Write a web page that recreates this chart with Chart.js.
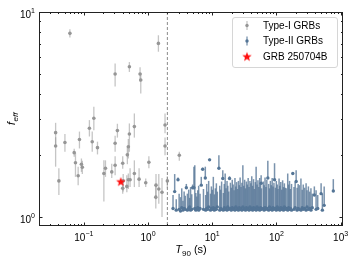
<!DOCTYPE html>
<html>
<head>
<meta charset="utf-8">
<script src="https://cdn.jsdelivr.net/npm/chart.js@4"></script>
<style>
  html, body { margin: 0; padding: 0; background: #fff; }
  canvas { display: block; }
</style>
</head>
<body>
<canvas id="c" width="356" height="263"></canvas>
<script>
// --------------------------
// data
// --------------------------
// Type-I GRBs : T90 (s), f_eff, lower / upper end of error bar
const t1T  = [0.0606, 0.143, 0.307, 0.512, 0.751, 0.77, 1.45, 0.0363, 0.0363, 0.0408,
              0.0507, 0.0707, 0.074, 0.0815, 0.0854, 0.0916, 0.0946, 0.122, 0.135, 0.163,
              0.205, 0.217, 0.272, 0.307, 0.307, 0.333, 0.403, 0.41, 0.403, 0.467,
              0.476, 0.493, 0.493, 0.512, 0.525, 0.612, 0.612, 0.725, 0.92, 1.03,
              1.33, 1.32, 1.47, 1.65, 1.84, 1.84, 2.0, 3.07];
const t1F  = [7.87, 3.03, 4.98, 5.41, 4.98, 4.66, 7.03, 2.58, 2.22, 1.50,
              2.31, 2.06, 1.84, 1.59, 2.39, 1.81, 1.75, 2.71, 2.33, 2.18,
              1.63, 1.73, 1.66, 2.29, 1.79, 2.64, 1.83, 1.50, 1.38, 1.41,
              2.01, 1.52, 2.20, 2.54, 1.52, 2.76, 1.63, 1.53, 1.47, 1.85,
              1.43, 1.25, 1.37, 1.32, 2.81, 2.22, 1.50, 2.00];
const t1Lo = [7.50, 2.65, 4.33, 5.10, 4.57, 4.00, 6.40, 2.20, 1.76, 1.28,
              2.08, 1.97, 1.57, 1.43, 2.16, 1.66, 1.62, 2.47, 2.08, 2.02,
              1.19, 1.57, 1.55, 2.08, 1.60, 2.44, 1.72, 1.33, 1.30, 1.32,
              1.81, 1.37, 1.93, 2.08, 1.40, 2.44, 1.40, 1.40, 1.40, 1.73,
              1.22, 1.10, 1.16, 1.00, 2.56, 2.00, 1.38, 1.88];
const t1Hi = [8.25, 3.45, 5.60, 5.70, 5.38, 5.04, 7.70, 2.88, 2.45, 1.73,
              2.54, 2.15, 2.06, 1.76, 2.61, 1.93, 1.88, 2.97, 2.61, 2.33,
              1.89, 1.89, 1.82, 2.49, 1.98, 2.85, 1.98, 1.62, 1.45, 1.60,
              2.18, 1.63, 2.40, 2.86, 1.73, 3.20, 1.89, 1.73, 1.54, 1.98,
              1.62, 1.43, 1.62, 1.55, 3.20, 2.44, 1.58, 2.08];

// Type-II GRBs : T90 (s), f_eff, upper end of error bar
const t2T = [2.45, 2.60, 2.75, 2.93, 3.05, 3.20, 3.35, 3.50, 3.65, 3.80,
             3.95, 4.10, 4.30, 4.45, 4.60, 4.80, 4.95, 5.19, 5.35, 5.55,
             5.75, 5.95, 6.15, 6.45, 6.75, 7.10, 7.30, 7.80, 7.90, 8.20,
             8.50, 8.80, 9.10, 9.40, 9.70, 10.0, 10.4, 10.8, 11.2, 11.6,
             12.0, 12.7, 13.1, 13.5, 14.0, 14.6, 14.9, 15.4, 15.9, 16.4,
             17.0, 17.5, 18.1, 18.6, 19.2, 19.8, 20.5, 21.2, 21.9, 22.6,
             23.3, 24.0, 24.8, 25.6, 26.4, 27.2, 28.1, 29.0, 30.0, 31.0,
             32.0, 33.0, 34.1, 35.2, 36.3, 37.5, 38.7, 40.0, 41.3, 42.6,
             44.0, 45.4, 46.9, 48.3, 49.9, 51.5, 53.2, 54.9, 56.7, 57.8,
             58.5, 62.4, 64.4, 66.5, 68.7, 70.9, 73.5, 75.6, 78.0, 80.6,
             83.2, 85.9, 88.7, 91.5, 93.5, 96.5, 99.6, 103, 106, 110,
             113, 117, 121, 125, 129, 133, 137, 142, 150, 155,
             160, 165, 172, 180, 188, 196, 203, 210, 218, 228,
             241, 252, 262, 275, 290, 300, 315, 330, 345, 362,
             390, 415, 440, 497, 520, 555, 770];
const t2F = [1.10, 1.33, 1.08, 1.52, 1.09, 1.07, 1.11, 1.08, 1.10, 1.09,
             1.39, 1.08, 1.10, 1.12, 1.08, 1.09, 1.39, 1.39, 1.10, 1.08,
             1.09, 1.11, 1.08, 1.10, 1.43, 1.71, 1.09, 1.55, 1.08, 1.10,
             1.09, 1.12, 1.90, 1.08, 1.10, 1.09, 1.11, 1.08, 1.10, 1.09,
             1.12, 1.73, 1.08, 1.10, 1.09, 1.54, 1.08, 1.11, 1.09, 1.10,
             1.08, 1.12, 1.09, 1.54, 1.10, 1.08, 1.11, 1.09, 1.10, 1.08,
             1.12, 1.09, 1.10, 1.08, 1.11, 1.09, 1.10, 1.08, 1.12, 1.09,
             1.10, 1.08, 1.11, 1.09, 1.10, 1.08, 1.12, 1.09, 1.10, 1.08,
             1.11, 1.09, 1.10, 1.08, 1.12, 1.09, 1.10, 1.08, 1.11, 1.46,
             1.09, 1.10, 1.08, 1.11, 1.09, 1.10, 1.55, 1.08, 1.12, 1.09,
             1.10, 1.08, 1.11, 1.09, 1.52, 1.10, 1.08, 1.12, 1.09, 1.10,
             1.08, 1.11, 1.09, 1.10, 1.08, 1.12, 1.09, 1.10, 1.08, 1.11,
             1.09, 1.10, 1.08, 1.63, 1.09, 1.11, 1.49, 1.08, 1.10, 1.09,
             1.08, 1.11, 1.09, 1.10, 1.08, 1.12, 1.09, 1.10, 1.08, 1.11,
             1.28, 1.09, 1.10, 1.30, 1.08, 1.14, 1.34];
const t2Hi = [1.28, 1.62, 1.22, 1.56, 1.30, 1.25, 1.38, 1.20, 1.33, 1.27,
              1.45, 1.30, 1.36, 1.24, 1.40, 1.29, 1.44, 1.76, 1.79, 1.31,
              1.26, 1.35, 1.42, 1.30, 1.57, 1.74, 1.37, 1.76, 1.28, 1.45,
              1.33, 1.50, 1.93, 1.30, 1.41, 1.36, 1.57, 1.29, 1.38, 1.46,
              1.33, 2.00, 1.42, 1.36, 1.49, 1.69, 1.31, 1.45, 1.63, 1.38,
              1.50, 1.42, 1.33, 1.58, 1.47, 1.39, 1.52, 1.44, 1.35, 1.55,
              1.41, 1.48, 1.37, 1.50, 1.43, 1.56, 1.40, 1.47, 1.79, 1.42,
              1.52, 1.38, 1.49, 1.44, 1.55, 1.40, 1.50, 1.46, 1.58, 1.42,
              1.53, 1.37, 1.48, 1.76, 1.44, 1.51, 1.40, 1.55, 1.46, 1.60,
              1.38, 1.49, 1.43, 1.56, 1.40, 1.52, 1.88, 1.45, 1.38, 1.50,
              1.43, 1.55, 1.41, 1.47, 1.83, 1.39, 1.50, 1.44, 1.37, 1.54,
              1.42, 1.48, 1.36, 1.51, 1.40, 1.46, 1.39, 1.38, 1.63, 1.44,
              1.50, 1.37, 1.45, 1.66, 1.40, 1.48, 1.69, 1.39, 1.45, 1.43,
              1.54, 1.36, 1.44, 1.39, 1.46, 1.35, 1.41, 1.33, 1.38, 1.30,
              1.41, 1.35, 1.28, 1.46, 1.30, 1.41, 1.53];

// GRB 250704B
const starT = [0.376];
const starF = [1.49];

// tick labels
const xTickVals = [0.1, 1, 10, 100, 1000];
const xTickExp  = ['\u22121', '0', '1', '2', '3'];
const yTickVals = [1, 10];
const yTickExp  = ['0', '1'];
const dividerT  = 2;

// --------------------------
// styles
// --------------------------
const FONT = '"Liberation Sans", Arial, sans-serif';
const t1Color = 'rgb(150,150,150)';
const t1Bar   = 'rgba(150,150,150,0.55)';
const t2Color = 'rgb(84,117,150)';
const t2Bar   = 'rgba(84,117,150,0.78)';
const starColor = '#ff1010';

function makeStar(r, color){
  const c = document.createElement('canvas');
  const s = Math.ceil(r * 2 + 2);
  c.width = s; c.height = s;
  const g = c.getContext('2d');
  g.fillStyle = color;
  g.beginPath();
  for(let i = 0; i < 10; i++){
    const a = -Math.PI / 2 + i * Math.PI / 5;
    const rr = i % 2 ? r * 0.42 : r;
    g.lineTo(s / 2 + rr * Math.cos(a), s / 2 + rr * Math.sin(a) + 0.4);
  }
  g.closePath();
  g.fill();
  return c;
}
const starImg = makeStar(5, starColor);

function drawPow(ctx, exp, x, yBase, align){
  ctx.font = '10px ' + FONT;
  const w1 = ctx.measureText('10').width;
  ctx.font = '7px ' + FONT;
  const w2 = ctx.measureText(exp).width;
  const left = align === 'center' ? x - (w1 + w2) / 2 : x - w1 - w2;
  ctx.textAlign = 'left';
  ctx.textBaseline = 'alphabetic';
  ctx.font = '10px ' + FONT;
  ctx.fillText('10', left, yBase);
  ctx.font = '7px ' + FONT;
  ctx.fillText(exp, left + w1, yBase - 5);
}

// error bars under the markers
const errorBars = {
  id: 'errorBars',
  beforeDatasetsDraw(chart){
    const {ctx, chartArea: a, scales: {x, y}} = chart;
    ctx.save();
    ctx.beginPath();
    ctx.rect(a.left, a.top, a.right - a.left, a.bottom - a.top);
    ctx.clip();
    ctx.lineWidth = 1.5;
    ctx.strokeStyle = t2Bar;
    t2T.forEach((t, i) => {
      const px = x.getPixelForValue(t);
      ctx.beginPath();
      ctx.moveTo(px, y.getPixelForValue(t2F[i]));
      ctx.lineTo(px, y.getPixelForValue(t2Hi[i]));
      ctx.stroke();
    });
    ctx.lineWidth = 1.3;
    ctx.strokeStyle = t1Bar;
    t1T.forEach((t, i) => {
      const px = x.getPixelForValue(t);
      ctx.beginPath();
      ctx.moveTo(px, y.getPixelForValue(t1Lo[i]));
      ctx.lineTo(px, y.getPixelForValue(t1Hi[i]));
      ctx.stroke();
    });
    // T90 = 2 s divider
    const dx = x.getPixelForValue(dividerT);
    ctx.setLineDash([3, 2]);
    ctx.strokeStyle = '#8a8a8a';
    ctx.lineWidth = 1;
    ctx.beginPath();
    ctx.moveTo(dx, a.top);
    ctx.lineTo(dx, a.bottom);
    ctx.stroke();
    ctx.restore();
  }
};

// frame, inward ticks, tick labels, axis titles, legend
const frame = {
  id: 'frame',
  afterDraw(chart){
    const {ctx, chartArea: a, scales: {x, y}} = chart;
    ctx.save();
    ctx.strokeStyle = '#222';
    ctx.lineWidth = 1;
    ctx.strokeRect(a.left + 0.5, a.top + 0.5, a.right - a.left - 1, a.bottom - a.top - 1);

    ctx.beginPath();
    for(let e = -2; e <= 3; e++){
      for(let k = 1; k <= 9; k++){
        const v = k * Math.pow(10, e);
        if(v < x.min || v > x.max) continue;
        const px = Math.round(x.getPixelForValue(v)) + 0.5;
        const len = k === 1 ? 3.5 : 2;
        ctx.moveTo(px, a.bottom); ctx.lineTo(px, a.bottom - len);
        ctx.moveTo(px, a.top); ctx.lineTo(px, a.top + len);
      }
    }
    for(let e = -1; e <= 1; e++){
      for(let k = 1; k <= 9; k++){
        const v = k * Math.pow(10, e);
        if(v < y.min || v > y.max) continue;
        const py = Math.round(y.getPixelForValue(v)) + 0.5;
        const len = k === 1 ? 3.5 : 2;
        ctx.moveTo(a.left, py); ctx.lineTo(a.left + len, py);
        ctx.moveTo(a.right, py); ctx.lineTo(a.right - len, py);
      }
    }
    ctx.stroke();

    ctx.fillStyle = '#000';
    xTickVals.forEach((v, i) => drawPow(ctx, xTickExp[i], x.getPixelForValue(v), a.bottom + 15, 'center'));
    yTickVals.forEach((v, i) => drawPow(ctx, yTickExp[i], a.left - 4, y.getPixelForValue(v) + 6, 'right'));

    // x title: T_90 (s)
    ctx.textBaseline = 'alphabetic';
    ctx.textAlign = 'left';
    ctx.font = 'italic 11px ' + FONT;
    const wT = ctx.measureText('T').width;
    ctx.font = '8px ' + FONT;
    const wSub = ctx.measureText('90').width;
    ctx.font = '11px ' + FONT;
    const wRest = ctx.measureText(' (s)').width;
    let lx = (a.left + a.right) / 2 - (wT + wSub + wRest) / 2;
    const by = 253;
    ctx.font = 'italic 11px ' + FONT; ctx.fillText('T', lx, by);
    ctx.font = '8px ' + FONT; ctx.fillText('90', lx + wT, by + 2.5);
    ctx.font = '11px ' + FONT; ctx.fillText(' (s)', lx + wT + wSub, by);

    // y title: f_eff
    ctx.save();
    ctx.translate(15, (a.top + a.bottom) / 2);
    ctx.rotate(-Math.PI / 2);
    ctx.font = 'italic 11px ' + FONT;
    const wf = ctx.measureText('f').width;
    ctx.font = 'italic 8px ' + FONT;
    const we = ctx.measureText('eff').width;
    const fx = -(wf + we) / 2;
    ctx.font = 'italic 11px ' + FONT; ctx.fillText('f', fx, 0);
    ctx.font = 'italic 8px ' + FONT; ctx.fillText('eff', fx + wf + 0.5, 2.5);
    ctx.restore();

    // legend
    const lw = 105, lh = 50;
    const lx0 = a.right - 6 - lw, ly0 = a.top + 5;
    ctx.beginPath();
    ctx.roundRect(lx0 + 0.5, ly0 + 0.5, lw, lh, 2.5);
    ctx.fillStyle = 'rgba(255,255,255,0.8)';
    ctx.fill();
    ctx.strokeStyle = '#d6d6d6';
    ctx.stroke();
    const items = [
      {label: 'Type-I GRBs', bar: t1Bar, dot: t1Color},
      {label: 'Type-II GRBs', bar: t2Bar, dot: t2Color},
      {label: 'GRB 250704B', star: true}
    ];
    const sx = lx0 + 15, tx = lx0 + 31;
    items.forEach((it, i) => {
      const cy = ly0 + 8.5 + i * 15.5;
      if(it.star){
        ctx.drawImage(starImg, sx - starImg.width / 2, cy - starImg.height / 2);
      } else {
        ctx.strokeStyle = it.bar;
        ctx.lineWidth = 1.3;
        ctx.beginPath();
        ctx.moveTo(sx, cy - 4.5); ctx.lineTo(sx, cy + 4.5);
        ctx.stroke();
        ctx.fillStyle = it.dot;
        ctx.beginPath();
        ctx.arc(sx, cy, 1.7, 0, Math.PI * 2);
        ctx.fill();
      }
      ctx.fillStyle = '#000';
      ctx.font = '10px ' + FONT;
      ctx.textBaseline = 'middle';
      ctx.fillText(it.label, tx, cy + 0.5);
    });
    ctx.restore();
  }
};

const toPts = (xs, ys) => xs.map((t, i) => ({x: t, y: ys[i]}));

new Chart(document.getElementById('c'), {
  type: 'scatter',
  data: {
    datasets: [
      {
        label: 'GRB 250704B',
        data: toPts(starT, starF),
        pointStyle: starImg,
        pointRadius: 5
      },
      {
        label: 'Type-I GRBs',
        data: toPts(t1T, t1F),
        backgroundColor: t1Color,
        borderWidth: 0,
        pointRadius: 1.8
      },
      {
        label: 'Type-II GRBs',
        data: toPts(t2T, t2F),
        backgroundColor: t2Color,
        borderWidth: 0,
        pointRadius: 1.7
      }
    ]
  },
  options: {
    responsive: false,
    animation: false,
    devicePixelRatio: 1,
    layout: { padding: { top: 12, right: 13, left: 0, bottom: 0 } },
    plugins: { legend: { display: false }, tooltip: { enabled: false } },
    scales: {
      x: {
        type: 'logarithmic', min: 0.02, max: 1090,
        grid: { display: false }, border: { display: false },
        ticks: { display: false },
        afterFit(s){ s.height = 37; }
      },
      y: {
        type: 'logarithmic', min: 0.904, max: 10,
        grid: { display: false }, border: { display: false },
        ticks: { display: false },
        afterFit(s){ s.width = 39; }
      }
    }
  },
  plugins: [errorBars, frame]
});
</script>
</body>
</html>
